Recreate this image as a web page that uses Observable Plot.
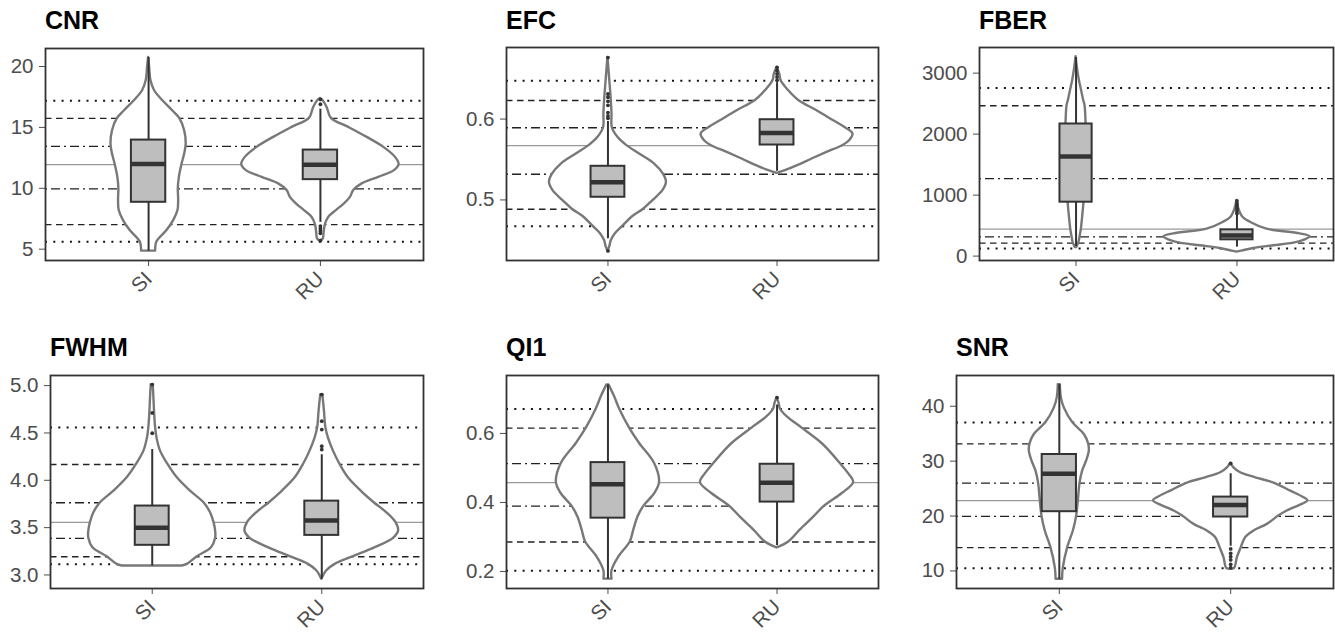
<!DOCTYPE html>
<html><head><meta charset="utf-8">
<script src="https://cdn.jsdelivr.net/npm/d3@7"></script>
<script src="https://cdn.jsdelivr.net/npm/@observablehq/plot@0.6"></script>
<style>
body{margin:0;background:#fff;}
#root{position:relative;width:1335px;height:634px;overflow:hidden;font-family:"Liberation Sans",Arial,sans-serif;background:#fff;}
.title{position:absolute;font-weight:bold;font-size:25px;line-height:25px;color:#000;white-space:nowrap;}
.panel{position:absolute;}
</style></head><body><div id="root"></div>
<script>
// ---------- data ----------
const groups = ["SI", "RU"];
const metrics = ["CNR", "EFC", "FBER", "FWHM", "QI1", "SNR"];
// reference line order (top to bottom)
const refTypes = ["dotted", "dashed", "dotdash", "solid", "dotdash", "dashed", "dotted"];

// violin outlines: [value, half-width in category units]
const cnrSI = [[20.74,0],[19.92,.006],[18.83,.014],[18.01,.035],[17.19,.083],[16.37,.140],[15.74,.181],[14.73,.210],[13.63,.219],[12.81,.210],[11.94,.194],[10.90,.179],[9.95,.173],[8.99,.175],[8.17,.171],[7.35,.146],[6.53,.107],[5.60,.049],[4.84,.041]];
const cnrRU = [[17.38,0],[17.19,.016],[16.64,.039],[15.74,.064],[15.00,.165],[14.18,.272],[13.36,.369],[12.54,.437],[11.94,.458],[11.45,.431],[10.90,.340],[10.36,.243],[9.81,.194],[9.26,.175],[8.72,.140],[8.17,.093],[7.62,.049],[7.02,.029],[6.26,.021],[5.85,.017],[5.66,0]];
const efcSI = [[.6761,0],[.6556,.008],[.6391,.014],[.6226,.020],[.6062,.024],[.5893,.026],[.5774,.059],[.5671,.112],[.5568,.187],[.5444,.276],[.5317,.329],[.5218,.346],[.5115,.325],[.4992,.266],[.4885,.211],[.4786,.142],[.4675,.089],[.4580,.043],[.4498,.020],[.4416,.010],[.4366,0]];
const efcRU = [[.6638,0],[.6556,.016],[.6473,.024],[.6350,.069],[.6230,.128],[.6103,.236],[.5979,.335],[.5893,.404],[.5815,.449],[.5733,.429],[.5671,.388],[.5588,.295],[.5506,.207],[.5424,.122],[.5362,.049],[.5329,0]];
const fberSI = [[3268,0],[3093,.008],[2875,.021],[2755,.031],[2547,.048],[2466,.056],[2329,.060],[2002,.064],[1620,.062],[1238,.058],[911,.050],[693,.043],[442,.033],[316,.025],[213,.017],[140,.004]];
const fberRU = [[911,0],[775,.012],[638,.037],[556,.083],[442,.186],[365,.393],[316,.455],[267,.424],[213,.352],[169,.228],[125,.104],[82,.031],[65,0]];
const fwhmSI = [[5.011,.006],[4.870,.010],[4.712,.014],[4.557,.020],[4.448,.028],[4.308,.049],[4.167,.093],[4.026,.148],[3.885,.226],[3.763,.305],[3.657,.344],[3.555,.364],[3.464,.374],[3.387,.374],[3.288,.350],[3.193,.266],[3.112,.207],[3.095,.177]];
const fwhmRU = [[4.905,.006],[4.729,.016],[4.557,.024],[4.448,.039],[4.308,.069],[4.167,.108],[4.026,.157],[3.886,.232],[3.763,.309],[3.657,.384],[3.555,.437],[3.464,.453],[3.387,.423],[3.288,.315],[3.193,.187],[3.112,.079],[3.042,.028],[2.954,0]];
const qi1SI = [[.7408,.006],[.7068,.039],[.6709,.069],[.6155,.128],[.5709,.187],[.5126,.276],[.4573,.305],[.4252,.276],[.3893,.213],[.3573,.177],[.3184,.152],[.2854,.132],[.2408,.063],[.2019,.024],[.1777,.024]];
const qi1RU = [[.7039,0],[.6874,.012],[.6709,.020],[.6485,.059],[.6155,.148],[.5709,.266],[.5515,.305],[.5126,.374],[.4835,.423],[.4573,.453],[.4252,.384],[.3893,.281],[.3573,.217],[.3184,.134],[.2854,.069],[.2680,0]];
const snrSI = [[43.94,.006],[41.52,.012],[39.70,.029],[37.03,.078],[34.85,.146],[33.15,.171],[31.82,.175],[30.0,.159],[28.18,.136],[26.0,.121],[22.79,.111],[19.94,.101],[17.27,.082],[14.24,.049],[10.48,.023],[8.48,.019]];
const snrRU = [[29.58,0],[28.79,.019],[27.88,.058],[26.97,.146],[26.0,.253],[24.55,.350],[23.33,.428],[22.79,.451],[22.12,.418],[20.91,.330],[19.94,.278],[18.48,.214],[17.27,.136],[16.06,.087],[14.24,.062],[12.42,.039],[10.48,.023],[10.30,0]];

// box stats: [lower whisker, q1, median, q3, upper whisker]
const cnrBoxSI = [4.84, 8.85, 12.0, 13.96, 20.74];
const cnrBoxRU = [7.2, 10.71, 11.94, 13.14, 16.5];
const efcBoxSI = [.452, .5033, .5218, .5416, .597];
const efcBoxRU = [.5354, .5679, .5827, .5992, .645];
const fberBoxSI = [158, 884, 1631, 2166, 3257];
const fberBoxRU = [147, 267, 338, 431, 670];
const fwhmBoxSI = [3.095, 3.313, 3.499, 3.728, 4.325];
const fwhmBoxRU = [2.954, 3.418, 3.576, 3.780, 4.27];
const qi1BoxSI = [.1777, .3544, .4524, .5155, .7408];
const qi1BoxRU = [.2748, .4010, .4573, .5107, .6825];
const snrBoxSI = [8.48, 20.79, 27.70, 31.21, 43.94];
const snrBoxRU = [14.5, 19.82, 22.0, 23.45, 27.7];

// outliers
const cnrOutSI = [];
const cnrOutRU = [16.9, 17.3, 6.9, 6.7, 6.5, 6.3, 5.7];
const efcOutSI = [.676, .631, .627, .622, .617, .608, .604, .601, .437];
const efcOutRU = [.648, .652, .656, .660, .664];
const fberOutSI = [];
const fberOutRU = [700, 740, 780, 820, 860, 905];
const fwhmOutSI = [5.011, 4.712, 4.497];
const fwhmOutRU = [4.905, 4.624, 4.536, 4.36, 4.325];
const qi1OutSI = [];
const qi1OutRU = [.7039];
const snrOutSI = [];
const snrOutRU = [29.58, 14.0, 13.2, 12.6, 12.0, 11.2, 10.6];

// reference lines (top to bottom, styles from refTypes)
const cnrRefs = [17.19, 15.74, 13.44, 11.94, 9.95, 7.02, 5.6];
const efcRefs = [.6473, .623, .5893, .5671, .5317, .4885, .4675];
const fberRefs = [2755, 2466, 1271, 442, 316, 213, 125];
const fwhmRefs = [4.557, 4.167, 3.763, 3.555, 3.387, 3.193, 3.112];
const qi1Refs = [.6709, .6155, .5126, .4573, .3893, .2854, .2019];
const snrRefs = [37.03, 33.15, 26.0, 22.79, 19.94, 14.24, 10.48];

// axis ticks
const cnrTicks = [5, 10, 15, 20];
const efcTicks = [0.5, 0.6];
const fberTicks = [0, 1000, 2000, 3000];
const fwhmTicks = [3.0, 3.5, 4.0, 4.5, 5.0];
const qi1Ticks = [0.2, 0.4, 0.6];
const snrTicks = [10, 20, 30, 40];

// ---------- layout ----------
const panels = [
  {name: metrics[0], left: 0,   top: 0,   mL: 45, mR: 22, mT: 48, mB: 57, domain: [4.07, 21.48], ticks: cnrTicks, fmt: "d",
   v: [cnrSI, cnrRU], b: [cnrBoxSI, cnrBoxRU], o: [cnrOutSI, cnrOutRU], refs: cnrRefs, tTop: 8},
  {name: metrics[1], left: 445, top: 0,   mL: 61, mR: 12, mT: 47, mB: 57, domain: [.4251, .6885], ticks: efcTicks, fmt: ".1f",
   v: [efcSI, efcRU], b: [efcBoxSI, efcBoxRU], o: [efcOutSI, efcOutRU], refs: efcRefs, tTop: 8},
  {name: metrics[2], left: 890, top: 0,   mL: 89, mR: 2,  mT: 47, mB: 57, domain: [-72, 3420], ticks: fberTicks, fmt: "d",
   v: [fberSI, fberRU], b: [fberBoxSI, fberBoxRU], o: [fberOutSI, fberOutRU], refs: fberRefs, tTop: 8},
  {name: metrics[3], left: 0,   top: 317, mL: 50, mR: 22, mT: 58, mB: 46, domain: [2.857, 5.107], ticks: fwhmTicks, fmt: ".1f",
   v: [fwhmSI, fwhmRU], b: [fwhmBoxSI, fwhmBoxRU], o: [fwhmOutSI, fwhmOutRU], refs: fwhmRefs, tTop: 18},
  {name: metrics[4], left: 445, top: 317, mL: 61, mR: 12, mT: 58, mB: 46, domain: [.1505, .768], ticks: qi1Ticks, fmt: ".1f",
   v: [qi1SI, qi1RU], b: [qi1BoxSI, qi1BoxRU], o: [qi1OutSI, qi1OutRU], refs: qi1Refs, tTop: 18},
  {name: metrics[5], left: 890, top: 317, mL: 66, mR: 2,  mT: 58, mB: 46, domain: [6.8, 45.6], ticks: snrTicks, fmt: "d",
   v: [snrSI, snrRU], b: [snrBoxSI, snrBoxRU], o: [snrOutSI, snrOutRU], refs: snrRefs, tTop: 18}
];

const lineStyles = {
  dotted:  {stroke: "#111", strokeWidth: 2, strokeDasharray: "2,6.3"},
  dashed:  {stroke: "#222", strokeWidth: 1.4, strokeDasharray: "6.5,4.5"},
  dotdash: {stroke: "#222", strokeWidth: 1.4, strokeDasharray: "2,4,9,4"},
  solid:   {stroke: "#999", strokeWidth: 1.3}
};

const root = document.getElementById("root");
const W = 445, H = 317;
const BOXW = 0.1;

for (const p of panels) {
  const violins = p.v.map((arr, i) => arr.map(([v, w]) => ({v, x1: i + 1 - w, x2: i + 1 + w})));
  const boxes = p.b.map(([lo, q1, med, q3, hi], i) => ({pos: i + 1, lo, q1, med, q3, hi}));
  const outs = p.o.flatMap((arr, i) => arr.map(v => ({pos: i + 1, v})));
  const refMarks = ["dotted", "dashed", "dotdash", "solid"].map(t =>
    Plot.ruleY(p.refs.filter((_, i) => refTypes[i] === t), lineStyles[t]));

  const chart = Plot.plot({
    width: W, height: H,
    marginLeft: p.mL, marginRight: p.mR, marginTop: p.mT, marginBottom: p.mB,
    style: {fontFamily: "'Liberation Sans', Arial, sans-serif", fontSize: "20.5px", color: "#4d4d4d", background: "transparent"},
    x: {domain: [0.4, 2.6], ticks: [1, 2], tickFormat: d => groups[d - 1], tickRotate: -45, tickSize: 6, tickPadding: 9, label: null},
    y: {domain: p.domain, ticks: p.ticks, tickFormat: d3.format(p.fmt), tickSize: 6, tickPadding: 6, label: null},
    marks: [
      ...refMarks,
      ...violins.map(d => Plot.areaX(d, {y: "v", x1: "x1", x2: "x2", fill: "white", stroke: "#787878", strokeWidth: 2.4, strokeLinejoin: "round", curve: "catmull-rom"})),
      Plot.ruleX(boxes, {x: "pos", y1: "lo", y2: "hi", stroke: "#333", strokeWidth: 2}),
      Plot.rect(boxes, {x1: d => d.pos - BOXW, x2: d => d.pos + BOXW, y1: "q1", y2: "q3", fill: "#bebebe", stroke: "#333", strokeWidth: 2}),
      Plot.ruleY(boxes, {y: "med", x1: d => d.pos - BOXW, x2: d => d.pos + BOXW, stroke: "#333", strokeWidth: 4.5}),
      Plot.dot(outs, {x: "pos", y: "v", r: 1.9, fill: "#333", stroke: "none"}),
      Plot.frame({stroke: "#333", strokeWidth: 1.8})
    ]
  });
  chart.classList.add("panel");
  chart.style.left = p.left + "px";
  chart.style.top = p.top + "px";
  root.appendChild(chart);

  const t = document.createElement("div");
  t.className = "title";
  t.textContent = p.name;
  t.style.left = (p.left + p.mL) + "px";
  t.style.top = (p.top + p.tTop) + "px";
  root.appendChild(t);
}
</script></body></html>
